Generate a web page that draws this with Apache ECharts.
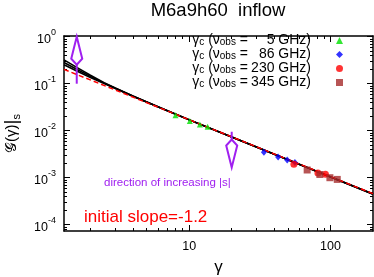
<!DOCTYPE html>
<html><head><meta charset="utf-8">
<script src="https://cdn.jsdelivr.net/npm/echarts@6/dist/echarts.min.js"></script>
<style>html,body{margin:0;padding:0;background:#fff}#c{width:374px;height:277px}</style>
</head><body><div id="c"></div>
<script>
// ---- data (gamma, G(gamma)|s) ----
const curveGamma = [1.3, 1.6, 2, 2.5, 3, 4, 6, 10, 20, 50, 100, 200];
const curveA = [0.321, 0.222, 0.151, 0.105, 0.0807, 0.0545, 0.0324, 0.01706, 0.00733, 0.0024, 0.001035, 0.000447];
const curveB = [0.282, 0.203, 0.143, 0.103, 0.0798, 0.0542, 0.0323, 0.0170, 0.00732, 0.00241, 0.00104, 0.000450];
const curveC = [0.252, 0.187, 0.136, 0.1005, 0.0789, 0.0540, 0.0322, 0.0170, 0.00735, 0.00242, 0.00105, 0.000452];
const slopeGamma = [1.3, 200];
const slopeValues = [0.202, 0.000457];
const gamma5 = [8.0, 10.1, 11.9, 13.5];
const value5 = [0.0212, 0.0160, 0.0136, 0.0122];
const gamma86 = [33.8, 42.6, 49.4, 56.0];
const value86 = [0.0035, 0.00275, 0.00238, 0.00210];
const gamma230 = [55.1, 81.5, 92.1];
const value230 = [0.00193, 0.00126, 0.00118];
const gamma345 = [68.4, 84.1, 99.1, 111.7];
const value345 = [0.00146, 0.00117, 0.00100, 0.00092];
const freqLabels = ['5', '86', '230', '345'];
const xMajorTicks = [10, 100];
const yMajorTicks = [1, 0.1, 0.01, 0.001, 0.0001];
const xRange = [1.3, 200];
const yRange = [7.35e-5, 1.035];
const arrowUp = {gamma: 1.6, from: 0.1, to: 1.0};
const arrowDown = {gamma: 20, from: 0.0095, to: 0.00165};

// ---- helpers ----
const L = v => Math.log10(v);
const pairs = (xs, ys) => xs.map((x, i) => [L(x), L(ys[i])]);
const FF = "'Liberation Sans', Arial, sans-serif";
const PURPLE = '#a020f0';
const xMin = L(xRange[0]), xMax = L(xRange[1]);
const yMin = L(yRange[0]), yMax = L(yRange[1]);
function minorTicks(lo, hi, nFrom, nTo) {
  const out = [];
  for (let n = nFrom; n <= nTo; n++) for (let k = 2; k <= 9; k++) {
    const v = L(k * Math.pow(10, n));
    if (v > lo && v < hi) out.push(v);
  }
  return out;
}
const xMajor = xMajorTicks.map(L), yMajor = yMajorTicks.map(L);
const xMinor = minorTicks(xMin, xMax, 0, 2), yMinor = minorTicks(yMin, yMax, -5, -1);

function xAx(grid, pos, ticks, len, label, line) {
  return {
    type: 'value', gridIndex: grid, position: pos, min: xMin, max: xMax,
    axisLine: {show: line, onZero: false, lineStyle: {color: '#000', width: 1.5}},
    axisTick: {show: true, inside: true, length: len, customValues: ticks, lineStyle: {color: '#000', width: 1}},
    axisLabel: label ? {show: true, customValues: xMajor, margin: 9, color: '#000', fontSize: 12.5, fontFamily: FF,
      formatter: v => String(Math.round(Math.pow(10, v)))} : {show: false},
    splitLine: {show: false},
    name: label ? 'γ' : '', nameLocation: 'middle', nameGap: 28,
    nameTextStyle: {fontSize: 17, color: '#000', fontFamily: FF}
  };
}
function yAx(grid, pos, ticks, len, label, line) {
  return {
    type: 'value', gridIndex: grid, position: pos, min: yMin, max: yMax,
    axisLine: {show: line, onZero: false, lineStyle: {color: '#000', width: 1.5}},
    axisTick: {show: true, inside: true, length: len, customValues: ticks, lineStyle: {color: '#000', width: 1}},
    axisLabel: label ? {show: true, customValues: yMajor, margin: 8, color: '#000', fontFamily: FF,
      formatter: v => '{b|10}{s|' + Math.round(v) + '}',
      rich: {b: {fontSize: 12.5, fontFamily: FF, color: '#000', lineHeight: 18, verticalAlign: 'bottom'},
             s: {fontSize: 9, fontFamily: FF, color: '#000', lineHeight: 18, verticalAlign: 'top'}}} : {show: false},
    splitLine: {show: false},
    name: label ? '{a|𝒢(γ)}{c||}{s|s}' : '', nameLocation: 'middle', nameGap: 42, nameRotate: 90,
    nameTextStyle: {fontFamily: FF, color: '#000',
      rich: {a: {fontSize: 15, fontFamily: FF, color: '#000', lineHeight: 20},
             c: {fontSize: 19, fontFamily: FF, color: '#000', lineHeight: 20},
             s: {fontSize: 11, fontFamily: FF, color: '#000', lineHeight: 20, verticalAlign: 'bottom'}}}
  };
}
const gridBox = {left: 64, right: 1, top: 36, bottom: 46, containLabel: false, outerBoundsMode: 'none'};

const legendRich = {
  g: {fontSize: 14, fontFamily: FF, color: '#000', lineHeight: 13},
  sb: {fontSize: 10, fontFamily: FF, color: '#000', lineHeight: 13, verticalAlign: 'bottom'},
  n: {fontSize: 14, fontFamily: FF, color: '#000', lineHeight: 13, width: 63, align: 'right'},
  p: {fontSize: 14, lineHeight: 13, width: 20, align: 'right'}
};
const seriesNames = freqLabels.map(f => 'nu' + f);

const chart = echarts.init(document.getElementById('c'), null, {renderer: 'canvas', width: 374, height: 277});
chart.setOption({
  animation: false,
  backgroundColor: '#fff',
  title: {text: 'M6a9h60  inflow', left: 218, textAlign: 'center', top: 1, padding: 0,
    textStyle: {fontSize: 18.5, fontWeight: 'normal', color: '#000', fontFamily: FF}},
  grid: [gridBox, Object.assign({}, gridBox)],
  xAxis: [xAx(0, 'bottom', xMajor, 6, true, true), xAx(0, 'top', xMajor, 6, false, true),
          xAx(1, 'bottom', xMinor, 3, false, false), xAx(1, 'top', xMinor, 3, false, false)],
  yAxis: [yAx(0, 'left', yMajor, 6, true, true), yAx(0, 'right', yMajor, 6, false, true),
          yAx(1, 'left', yMinor, 3, false, false), yAx(1, 'right', yMinor, 3, false, false)],
  legend: {
    orient: 'vertical', right: 31, top: 33.5, padding: 0, itemGap: 0, itemWidth: 7, itemHeight: 7,
    align: 'right', selectedMode: false, data: seriesNames,
    formatter: name => {
      const f = freqLabels[seriesNames.indexOf(name)];
      return '{g|γ}{sb|c}{g| (ν}{sb|obs}{g| =}{n|' + f + ' GHz)}{p| }';
    },
    textStyle: {rich: legendRich}
  },
  series: [
    {type: 'line', data: pairs(curveGamma, curveA), showSymbol: false, lineStyle: {color: '#000', width: 1.6}, z: 2},
    {type: 'line', data: pairs(curveGamma, curveB), showSymbol: false, lineStyle: {color: '#000', width: 1.6}, z: 2},
    {type: 'line', data: pairs(curveGamma, curveC), showSymbol: false, lineStyle: {color: '#000', width: 1.6}, z: 2},
    {type: 'line', data: pairs(slopeGamma, slopeValues), showSymbol: false, lineStyle: {color: '#ff0000', width: 1.5, type: [5, 3]}, z: 3},
    {type: 'scatter', name: seriesNames[0], data: pairs(gamma5, value5), symbol: 'triangle', symbolSize: 6, itemStyle: {color: '#00e000'}, z: 4},
    {type: 'scatter', name: seriesNames[1], data: pairs(gamma86, value86), symbol: 'diamond', symbolSize: [6, 7], itemStyle: {color: '#0000ff'}, z: 4},
    {type: 'scatter', name: seriesNames[2], data: pairs(gamma230, value230), symbol: 'circle', symbolSize: 7, itemStyle: {color: '#ff0000'}, z: 4},
    {type: 'scatter', name: seriesNames[3], data: pairs(gamma345, value345), symbol: 'rect', symbolSize: 7, itemStyle: {color: '#a52a2a'}, z: 4}
  ]
});

function arrowGraphic(a) {
  const p0 = chart.convertToPixel({xAxisIndex: 0, yAxisIndex: 0}, [L(a.gamma), L(a.from)]);
  const tip = chart.convertToPixel({xAxisIndex: 0, yAxisIndex: 0}, [L(a.gamma), L(a.to)]);
  const dir = Math.sign(tip[1] - p0[1]);
  const wingY = tip[1] - dir * 22, backY = tip[1] - dir * 28;
  const st = {stroke: PURPLE, lineWidth: 2, fill: null};
  return [
    {type: 'polyline', shape: {points: [p0, [tip[0], backY]]}, style: st, z: 10},
    {type: 'polygon', shape: {points: [tip, [tip[0] - 5.5, wingY], [tip[0], backY], [tip[0] + 5.5, wingY]]}, style: st, z: 10}
  ];
}
chart.setOption({
  graphic: [].concat(arrowGraphic(arrowUp), arrowGraphic(arrowDown), [
    {type: 'text', x: 104, y: 183, z: 10, style: {text: 'direction of increasing |s|', fill: PURPLE, fontSize: 11.5, fontFamily: FF, verticalAlign: 'middle'}},
    {type: 'text', x: 84, y: 217, z: 10, style: {text: 'initial slope=-1.2', fill: '#ff0000', fontSize: 17, fontFamily: FF, verticalAlign: 'middle'}}
  ])
});
</script></body></html>
